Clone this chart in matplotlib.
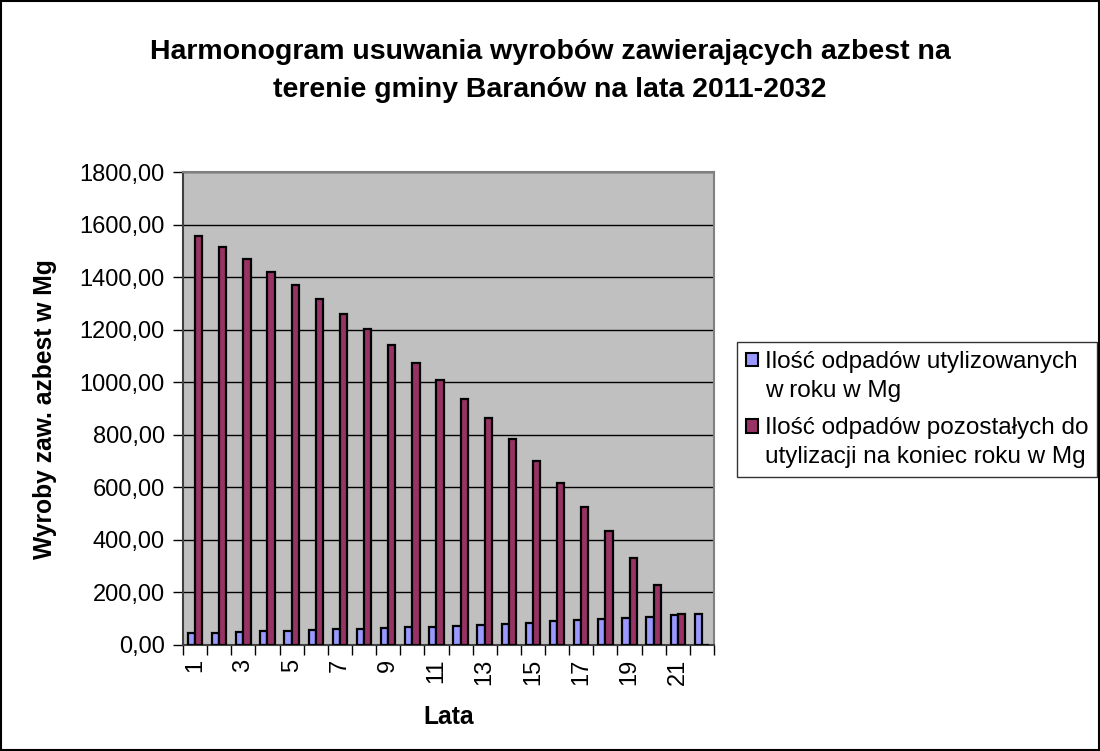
import numpy as np
import matplotlib
matplotlib.use("Agg")
import matplotlib.pyplot as plt
from matplotlib.patches import Rectangle, Patch
from matplotlib.legend_handler import HandlerBase

plt.rcParams['font.family'] = ['Liberation Sans', 'DejaVu Sans']

# dane
lata = [str(i) for i in range(1, 23)]
utylizowane = [44, 47, 51, 52, 55, 57, 60, 62, 63, 68, 70, 74, 77, 81, 85, 90, 94, 98, 103, 108, 113, 119]
pozostale = [1556, 1513, 1468, 1418, 1369, 1315, 1261, 1201, 1143, 1075, 1008, 937, 863, 785, 701, 616, 526, 433, 332, 227, 119, 0]
y_ticks = [0, 200, 400, 600, 800, 1000, 1200, 1400, 1600, 1800]
nazwy = ["Ilość odpadów utylizowanych\nw roku w Mg",
         "Ilość odpadów pozostałych do\nutylizacji na koniec roku w Mg"]

c_blue = '#9999FF'
c_red = '#993366'


class TopSquare(HandlerBase):
    # kwadracik przy pierwszej linii tekstu (jak w Excelu)
    def __init__(self, shift):
        super().__init__()
        self.shift = shift

    def create_artists(self, legend, orig_handle, xdescent, ydescent, width, height, fontsize, trans):
        r = Rectangle((-xdescent, -ydescent + self.shift), width, height,
                      facecolor=orig_handle.get_facecolor(), edgecolor='black', linewidth=1.5)
        r.set_transform(trans)
        return [r]


W, H = 1100, 751
fig = plt.figure(figsize=(W / 100, H / 100), dpi=100)
ax = fig.add_axes([183 / W, 1 - 645 / H, (714 - 183) / W, (645 - 172) / H])
ax.set_facecolor('#C0C0C0')

x = np.arange(len(lata))
w = 0.3
ax.bar(x - w / 2, utylizowane, w, color=c_blue, edgecolor='black', linewidth=1.6, zorder=3)
ax.bar(x + w / 2, pozostale, w, color=c_red, edgecolor='black', linewidth=1.6, zorder=3)

ax.set_xlim(-0.5, len(lata) - 0.5)
ax.set_ylim(0, 1800)

# ticki osi x: kreski miedzy kategoriami, etykiety co druga
ax.set_xticks(np.arange(-0.5, len(lata), 1.0))
ax.set_xticklabels([])
ax.set_xticks(x[::2], minor=True)
ax.set_xticklabels(lata[::2], minor=True, rotation=90, fontsize=17)
ax.tick_params(axis='x', which='major', length=7, width=1, color='black', direction='out')
ax.tick_params(axis='x', which='minor', length=0, pad=10)

ax.set_yticks(y_ticks)
ax.set_yticklabels([f"{v:.2f}".replace('.', ',') for v in y_ticks], fontsize=17)
ax.tick_params(axis='y', length=7, width=1, color='black', direction='out', pad=6)

ax.yaxis.grid(True, color='black', linewidth=1)
ax.set_axisbelow(True)

for s in ['top', 'right']:
    ax.spines[s].set_color('#808080')
    ax.spines[s].set_linewidth(1.5)
for s in ['left', 'bottom']:
    ax.spines[s].set_color('#404040')
    ax.spines[s].set_linewidth(1.5)

fig.text(550 / W, 1 - 71 / H,
         "Harmonogram usuwania wyrobów zawierających azbest na\nterenie gminy Baranów na lata 2011-2032",
         ha='center', va='center', fontsize=20.5, fontweight='bold', linespacing=1.6)
fig.text(45 / W, 1 - 409 / H, "Wyroby zaw. azbest w Mg", rotation=90,
         ha='center', va='center', fontsize=17.7, fontweight='bold')
fig.text(449 / W, 1 - 717 / H, "Lata", ha='center', va='center', fontsize=17.7, fontweight='bold')

handles = [Patch(facecolor=c_blue), Patch(facecolor=c_red)]
leg = fig.legend(handles, nazwy, loc='upper left', bbox_to_anchor=(737 / W, 1 - 342 / H),
                 fontsize=17.5, frameon=True, fancybox=False, handlelength=0.5, handleheight=0.5,
                 handletextpad=0.3, borderpad=0.35, labelspacing=0.6, borderaxespad=0,
                 handler_map={Patch: TopSquare(shift=12)})
for t in leg.get_texts():
    t.set_linespacing(1.45)
leg.get_frame().set_edgecolor('black')
leg.get_frame().set_linewidth(1)

fig.patches.append(Rectangle((0.001, 0.001), 0.998, 0.998, transform=fig.transFigure,
                             fill=False, edgecolor='black', linewidth=1.5))

fig.savefig('out.png', dpi=100)
